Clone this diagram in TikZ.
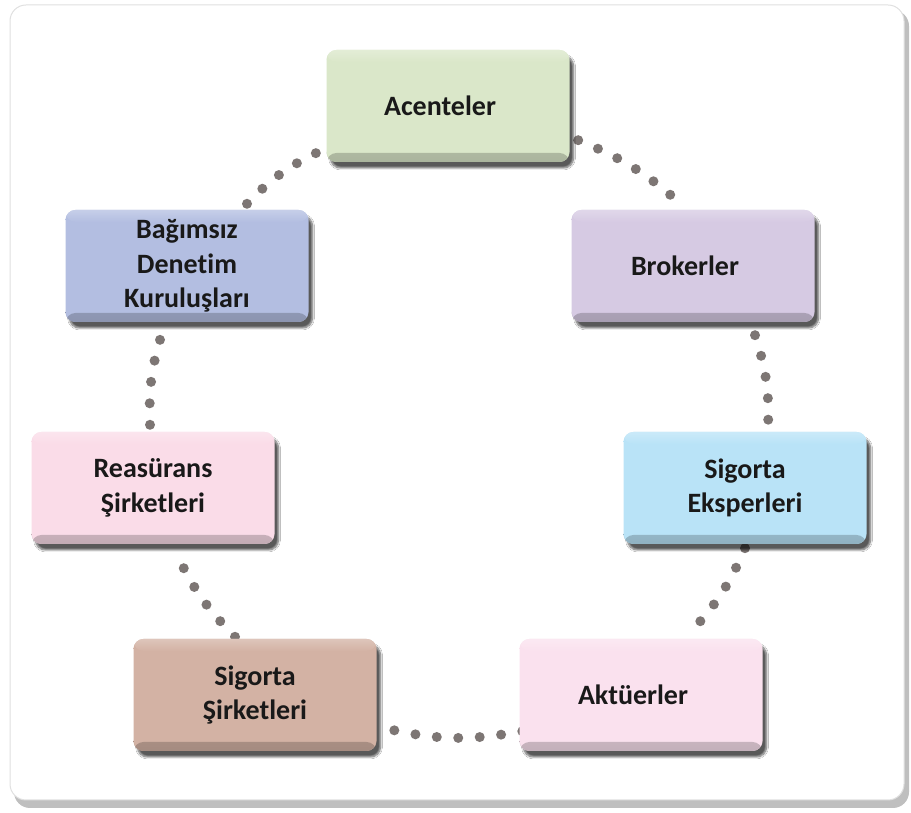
\documentclass[tikz,border=0pt]{standalone}
\usepackage{fontspec}
\setmainfont{Carlito}[Ligatures={NoCommon}]
\usetikzlibrary{shadows.blur,backgrounds}
\definecolor{cA}{HTML}{DAE7C9}
\definecolor{cBr}{HTML}{D6CAE3}
\definecolor{cBag}{HTML}{B3BEE1}
\definecolor{cSE}{HTML}{B9E3F7}
\definecolor{cR}{HTML}{FADCE8}
\definecolor{cAk}{HTML}{FAE1EE}
\definecolor{cSS}{HTML}{D3B2A4}
\definecolor{dotc}{HTML}{7D7674}
\newcommand{\lft}{\hspace*{-16pt}}
\tikzset{
  box/.style={rounded corners=10pt, minimum width=243pt, minimum height=112pt,
    inner sep=0pt, align=center, text=black!90,
    font=\fontsize{28}{34.5}\selectfont\bfseries,
    fill=#1,
    path picture={
      \shade[top color=#1, bottom color=#1!78!black]
        ([yshift=9pt]path picture bounding box.south west) rectangle (path picture bounding box.south east);
      \shade[top color=#1!75!white, bottom color=#1]
        (path picture bounding box.north west) rectangle ([yshift=-12pt]path picture bounding box.north east);
    },
    blur shadow={shadow xshift=4pt, shadow yshift=-6pt, shadow blur steps=8, shadow opacity=65}},
  dots/.style={draw=dotc, line width=10pt, line cap=round, dash pattern=on 0pt off 21.5pt},
}
\begin{document}
\begin{tikzpicture}[x=1pt,y=1pt]
\useasboundingbox (0,0) rectangle (911,813);
\node[box=cA]  (A)   at (448,707) {\lft Acenteler};
\node[box=cBr] (Br)  at (693,547) {\lft Brokerler};
\node[box=cSE] (SE)  at (745,325) {Sigorta\\Eksperleri};
\node[box=cAk] (Ak)  at (641,118) {\lft Aktüerler};
\node[box=cSS] (SS)  at (255,118) {Sigorta\\Şirketleri};
\node[box=cR]  (R)   at (153,325) {Reasürans\\Şirketleri};
\node[box=cBag](Bag) at (187,547) {Bağımsız\\Denetim\\Kuruluşları};
\begin{scope}[on background layer]
  % frame
  \fill[black!25, rounded corners=16pt] (14,5) rectangle (909,803);
  \fill[white, draw=black!12, line width=1pt, rounded corners=16pt] (10,13) rectangle (904,808);
  % dotted connectors
  \draw[dots] ([xshift=60pt,yshift=6pt]Bag.north) to[bend left=10] ([xshift=-8.5pt,yshift=10pt]A.south west);
  \draw[dots] ([xshift=8.5pt,yshift=22pt]A.south east) to[bend left=10] ([xshift=-8pt,yshift=2pt]Br.north);
  \draw[dots] ([xshift=62pt,yshift=-13pt]Br.south) to[bend left=10] ([xshift=23pt,yshift=4pt]SE.north);
  \draw[dots] ([yshift=-4pt]SE.south) to[bend left=10] ([xshift=47pt,yshift=4pt]Ak.north);
  \draw[dots] ([xshift=3pt,yshift=20pt]Ak.south west) to[bend left=12] ([xshift=4pt,yshift=24pt]SS.south east);
  \draw[dots] ([xshift=-20pt,yshift=2pt]SS.north) to[bend left=10] ([xshift=22pt,yshift=-6pt]R.south);
  \draw[dots] ([xshift=-3pt,yshift=7pt]R.north) to[bend left=10] ([xshift=-24pt,yshift=-8pt]Bag.south);
\end{scope}
\end{tikzpicture}
\end{document}
